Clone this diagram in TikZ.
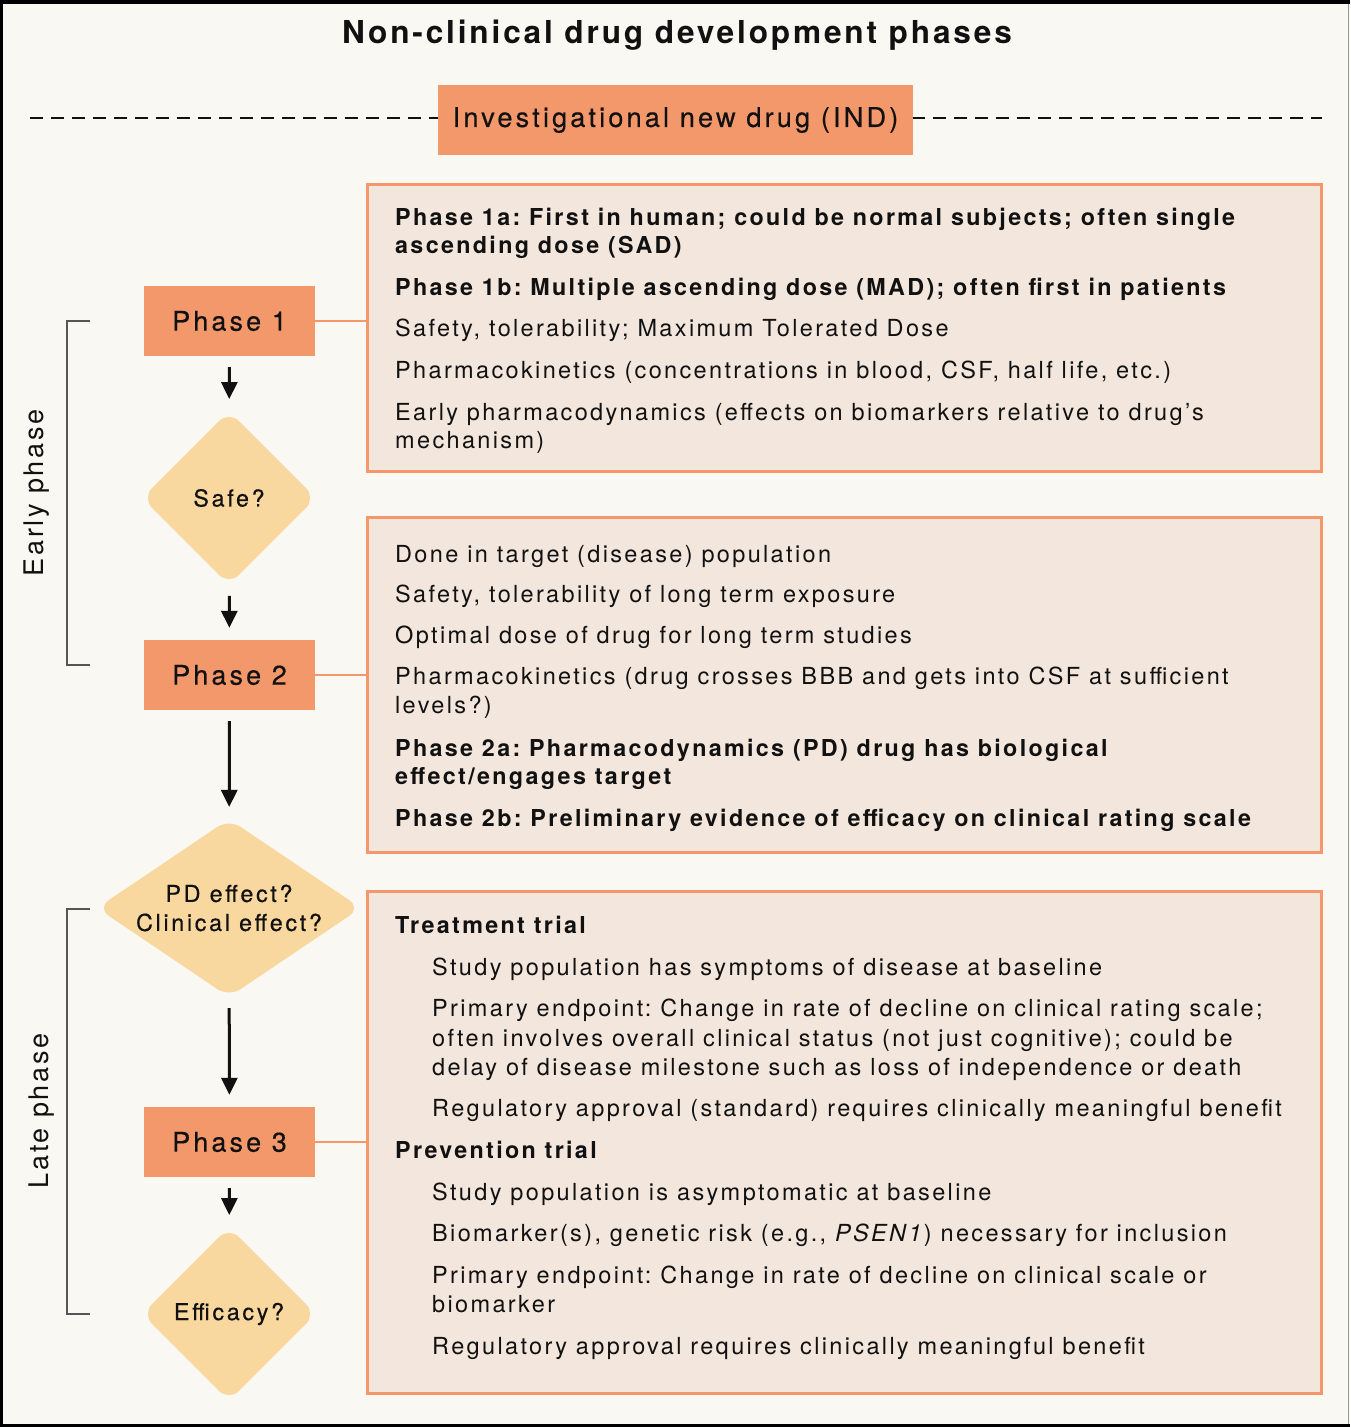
\documentclass[tikz,border=0pt]{standalone}
\usepackage{fontspec}
\setmainfont{TeX Gyre Heros}[LetterSpace=10]
\newfontfamily\medfont{TeX Gyre Heros}[FakeBold=0.4,LetterSpace=11.5]
\newfontfamily\titlefont{TeX Gyre Heros}[LetterSpace=9]
\usetikzlibrary{shapes.geometric,arrows.meta}
\definecolor{bg}{HTML}{F9F8F3}
\definecolor{orangebox}{HTML}{F3986B}
\definecolor{panel}{HTML}{F3E6DD}
\definecolor{panelline}{HTML}{F4986B}
\definecolor{diam}{HTML}{F8D89E}
\definecolor{brk}{HTML}{555555}
\definecolor{ink}{HTML}{111111}
\tikzset{
  phasebox/.style={rectangle, fill=orangebox, minimum width=171pt, minimum height=70pt, inner sep=0pt, text=ink, font=\medfont\fontsize{27}{30}\selectfont},
  panelbox/.style={draw=panelline, line width=3pt, fill=panel},
  decision/.style={diamond, fill=diam, inner sep=0pt, rounded corners=14pt, text=ink, align=center, font=\medfont\fontsize{23.3}{29}\selectfont},
  flowarrow/.style={draw=ink, line width=3pt, -{Triangle[length=17pt,width=16pt]}, shorten <=11pt, shorten >=12pt},
  linkline/.style={draw=panelline, line width=2pt},
  bracket/.style={draw=brk, line width=1.4pt},
  body/.style={anchor=base west, inner sep=0pt, text=ink, font=\frenchspacing\fontsize{23.5}{28}\selectfont},
  bodyb/.style={body, font=\frenchspacing\bfseries\fontsize{23.3}{28}\selectfont},
  sidelabel/.style={rotate=90, inner sep=0pt, text=ink, font=\fontsize{27}{30}\selectfont}
}
\begin{document}
\begin{tikzpicture}[x=1pt,y=-1pt]
\useasboundingbox (0,0) rectangle (1350,1427);
% background and frame
\fill[bg] (0,0) rectangle (1350,1427);
\fill[black] (0,0) rectangle (1350,4);
\fill[black] (0,0) rectangle (3,1427);
\fill[black] (0,1424) rectangle (1350,1427);
\draw[brk!60, line width=1pt] (1348.5,4) -- (1348.5,1424);

% title
\node[inner sep=0pt, text=ink, font=\titlefont\bfseries\fontsize{31.6}{36}\selectfont] (title) at (677,35) {Non-clinical drug development phases};

% IND line
\coordinate (dl) at (30,118);
\coordinate (dr) at (1322,118);
\draw[ink, line width=2pt, dash pattern=on 13pt off 8pt] (dl) -- (dr);
\node[rectangle, fill=orangebox, minimum width=475pt, minimum height=70pt, inner sep=0pt, text=ink, font=\medfont\fontsize{27.2}{30}\selectfont] (ind) at (675.5,120) {Investigational new drug (IND)};

% panels
\node[panelbox, anchor=north west, minimum width=954pt, minimum height=287pt, inner sep=0pt] (b1) at (366,183) {};
\node[panelbox, anchor=north west, minimum width=954pt, minimum height=335pt, inner sep=0pt] (b2) at (366,516) {};
\node[panelbox, anchor=north west, minimum width=954pt, minimum height=502pt, inner sep=0pt] (b3) at (366,890) {};

% flow nodes
\node[phasebox] (p1) at (229.5,321) {Phase 1};
\node[decision, minimum width=174pt, minimum height=174pt] (safe) at (229,498) {Safe?};
\node[phasebox] (p2) at (229.5,675) {Phase 2};
\node[decision, minimum width=264pt, minimum height=178pt, shape aspect=1.5] (pd) at (229,908) {PD effect?\\Clinical effect?};
\node[phasebox] (p3) at (229.5,1142) {Phase 3};
\node[decision, minimum width=174pt, minimum height=174pt] (eff) at (229,1314) {Efficacy?};

% arrows
\draw[flowarrow] (p1) -- (safe);
\draw[flowarrow] (safe) -- (p2);
\draw[flowarrow] (p2) -- (pd);
\draw[flowarrow] (pd) -- (p3);
\draw[flowarrow] (p3) -- (eff);

% links to panels
\draw[linkline] (p1.east) -- (p1.east -| b1.west);
\draw[linkline] (p2.east) -- (p2.east -| b2.west);
\draw[linkline] (p3.east) -- (p3.east -| b3.west);

% brackets
\coordinate (e1) at (90,321);
\coordinate (e2) at (90,665);
\draw[bracket] (e1) -- (67,321) -- (67,665) -- (e2);
\node[sidelabel] (early) at (37,493) {Early phase};
\coordinate (l1) at (90,909);
\coordinate (l2) at (90,1314);
\draw[bracket] (l1) -- (67,909) -- (67,1314) -- (l2);
\node[sidelabel] (late) at (42,1111) {Late phase};

% panel 1 text
\node[bodyb] (a1) at (395,225) {Phase 1a: First in human; could be normal subjects; often single};
\node[bodyb] (a2) at (395,253) {ascending dose (SAD)};
\node[bodyb] (a3) at (395,295) {Phase 1b: Multiple ascending dose (MAD); often first in patients};
\node[body] (a4) at (395,336) {Safety, tolerability; Maximum Tolerated Dose};
\node[body] (a5) at (395,378) {Pharmacokinetics (concentrations in blood, CSF, half life, etc.)};
\node[body] (a6) at (395,420) {Early pharmacodynamics (effects on biomarkers relative to drug’s};
\node[body] (a7) at (395,448) {mechanism)};

% panel 2 text
\node[body] (c1) at (395,562) {Done in target (disease) population};
\node[body] (c2) at (395,602) {Safety, tolerability of long term exposure};
\node[body] (c3) at (395,643) {Optimal dose of drug for long term studies};
\node[body] (c4) at (395,684) {Pharmacokinetics (drug crosses BBB and gets into CSF at sufficient};
\node[body] (c5) at (395,713) {levels?)};
\node[bodyb] (c6) at (395,756) {Phase 2a: Pharmacodynamics (PD) drug has biological};
\node[bodyb] (c7) at (395,784) {effect/engages target};
\node[bodyb] (c8) at (395,826) {Phase 2b: Preliminary evidence of efficacy on clinical rating scale};

% panel 3 text
\node[bodyb] (d1) at (395,933) {Treatment trial};
\node[body] (d2) at (432,975) {Study population has symptoms of disease at baseline};
\node[body] (d3) at (432,1016) {Primary endpoint: Change in rate of decline on clinical rating scale;};
\node[body] (d4) at (432,1046) {often involves overall clinical status (not just cognitive); could be};
\node[body] (d5) at (432,1075) {delay of disease milestone such as loss of independence or death};
\node[body] (d6) at (432,1116) {Regulatory approval (standard) requires clinically meaningful benefit};
\node[bodyb] (d7) at (395,1158) {Prevention trial};
\node[body] (d8) at (432,1200) {Study population is asymptomatic at baseline};
\node[body] (d9) at (432,1241) {Biomarker(s), genetic risk (e.g., \textit{PSEN1}) necessary for inclusion};
\node[body] (d10) at (432,1283) {Primary endpoint: Change in rate of decline on clinical scale or};
\node[body] (d11) at (432,1312) {biomarker};
\node[body] (d12) at (432,1354) {Regulatory approval requires clinically meaningful benefit};
\end{tikzpicture}
\end{document}
